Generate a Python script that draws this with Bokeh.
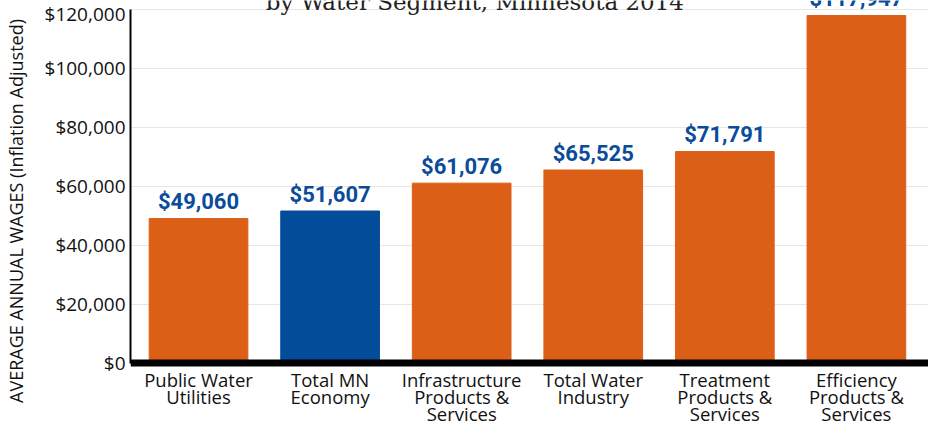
from bokeh.plotting import figure
from bokeh.models import Range1d, FixedTicker, NumeralTickFormatter, Label, LabelSet, Span, ColumnDataSource
from bokeh.core.properties import value
from bokeh.embed import file_html
from bokeh.resources import INLINE

# ---- data ----
categories = [
    "Public Water\nUtilities",
    "Total MN\nEconomy",
    "Infrastructure\nProducts &\nServices",
    "Total Water\nIndustry",
    "Treatment\nProducts &\nServices",
    "Efficiency\nProducts &\nServices",
]
wages = [49060, 51607, 61076, 65525, 71791, 117947]
bar_colors = ["#dc5f18", "#034c9a", "#dc5f18", "#dc5f18", "#dc5f18", "#dc5f18"]
y_ticks = [0, 20000, 40000, 60000, 80000, 100000, 120000]
title_text = "by Water Segment, Minnesota 2014"
y_label = "AVERAGE ANNUAL WAGES (Inflation Adjusted)"

positions = list(range(len(categories)))
wage_labels = ["${:,}".format(v) for v in wages]
split = [c.split("\n") for c in categories]
n_lines = max(len(s) for s in split)
line_cols = {"line%d" % k: [s[k] if k < len(s) else "" for s in split] for k in range(n_lines)}

src = ColumnDataSource(dict(x=positions, wage=wages, color=bar_colors, label=wage_labels,
                            base=[0] * len(categories), **line_cols))

# frame runs to the bottom edge; the area below $0 holds the category names
p = figure(width=928, height=421, output_backend="svg", toolbar_location=None,
           x_range=Range1d(-0.517, 5.548), y_range=Range1d(-19819, 123054),
           min_border_left=125, min_border_right=0, min_border_top=0, min_border_bottom=0)
p.outline_line_color = None
p.background_fill_color = "white"
p.border_fill_color = "white"

p.vbar(x="x", top="wage", bottom=0, width=0.75, color="color", source=src)
p.text(x="x", y="wage", text="label", source=src, text_align="center",
       text_baseline="alphabetic", y_offset=-17,
       text_font=value("Roboto"), text_font_style="bold",
       text_font_size="22px", text_color="#0b4c9a")

# thick baseline at $0
p.add_layout(Span(location=0, dimension="width", line_color="black", line_width=7))

# category labels under the baseline, one centred line each
for k in range(n_lines):
    p.add_layout(LabelSet(x="x", y="base", text="line%d" % k, source=src, text_align="center",
                          text_baseline="alphabetic", y_offset=-(24 + 17 * k),
                          text_font=value("Open Sans"), text_font_size="18.5px",
                          text_color="#111111"))

# title (cropped at top like the reference)
p.add_layout(Label(x=2.10, y=122550, text=title_text, text_align="center",
                   text_baseline="alphabetic", text_font="DejaVu Serif",
                   text_font_size="23px", text_color="#222222"))

# y axis
p.yaxis.ticker = FixedTicker(ticks=y_ticks)
p.yaxis.formatter = NumeralTickFormatter(format="$0,0")
p.yaxis.bounds = (0, 120000)
p.yaxis.axis_line_width = 2
p.yaxis.axis_line_color = "black"
p.yaxis.major_tick_line_color = None
p.yaxis.minor_tick_line_color = None
p.yaxis.major_tick_out = 0
p.yaxis.major_tick_in = 0
p.yaxis.major_label_standoff = 5
p.yaxis.major_label_text_font = "Open Sans"
p.yaxis.major_label_text_font_size = "19px"
p.yaxis.major_label_text_color = "#111111"
p.yaxis.axis_label = y_label
p.yaxis.axis_label_text_font = "Open Sans"
p.yaxis.axis_label_text_font_size = "18px"
p.yaxis.axis_label_text_font_style = "normal"
p.yaxis.axis_label_text_color = "#111111"
p.yaxis.axis_label_standoff = 14

p.xaxis.visible = False

# grid
p.ygrid.ticker = FixedTicker(ticks=y_ticks)
p.ygrid.grid_line_color = "#e6e6e6"
p.ygrid.grid_line_width = 1
p.xgrid.visible = False

open("out.html", "w").write(file_html(p, INLINE))
